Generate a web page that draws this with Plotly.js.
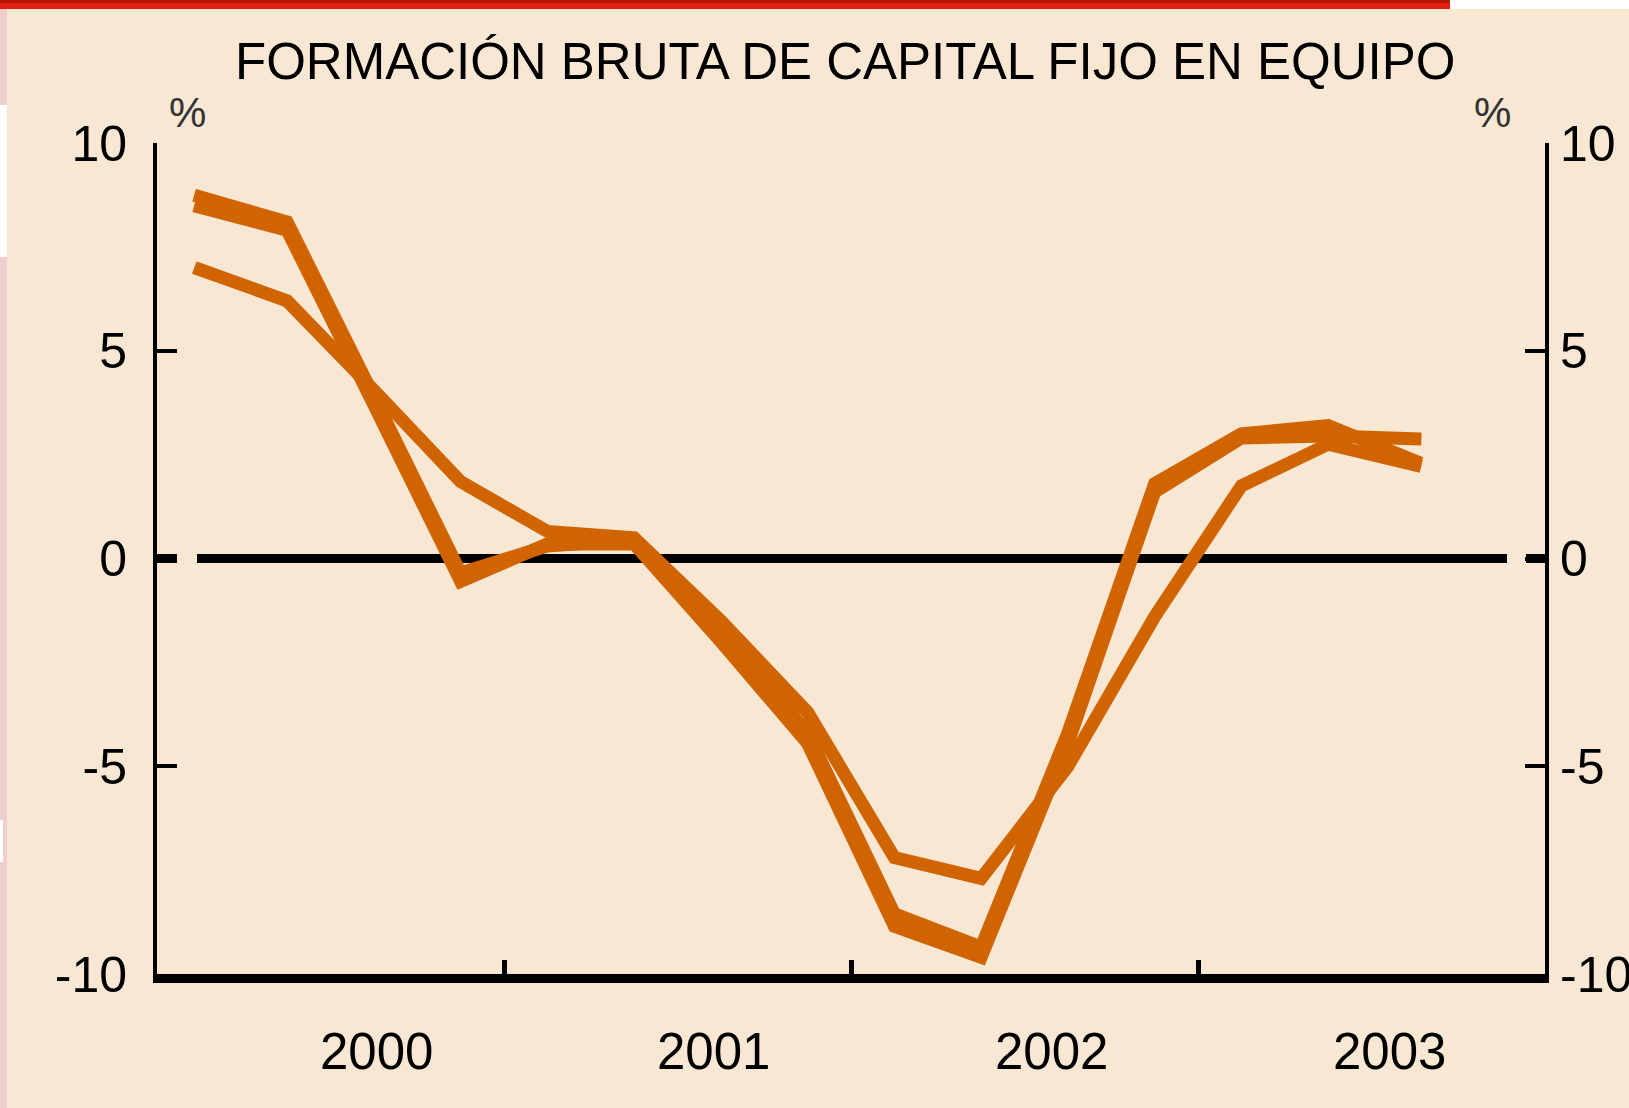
<!DOCTYPE html>
<html>
<head>
<meta charset="utf-8">
<script src="https://cdn.plot.ly/plotly-3.0.1.min.js"></script>
<style>
html,body{margin:0;padding:0;background:#F7E7D3;}
#chart{width:1629px;height:1108px;}
.scatterlayer .js-line{stroke-linecap:square !important;}
</style>
</head>
<body>
<div id="chart"></div>
<script>
// ---- data (year-on-year rates, %) ----
const quarters = ['I 2000','II 2000','III 2000','IV 2000','I 2001','II 2001','III 2001','IV 2001',
                  'I 2002','II 2002','III 2002','IV 2002','I 2003','II 2003','III 2003'];
const seriesA1 = [8.7, 8.1, 3.9, -0.35, 0.3, 0.45, -1.7, -4.2, -8.55, -9.35, -4.2, 1.8, 3.0, 3.2, 2.35];
const seriesA2 = [8.45, 7.9, 3.7, -0.55, 0.35, 0.35, -2.0, -4.45, -8.85, -9.6, -4.45, 1.6, 2.9, 2.95, 2.88];
const seriesC  = [6.95, 6.2, 4.05, 1.85, 0.65, 0.5, -1.5, -3.7, -7.2, -7.7, -5.0, -1.4, 1.75, 2.75, 2.25];
const yearLabels = ['2000','2001','2002','2003'];
const yTickVals = [-10, -5, 0, 5, 10];
const yTickText = ['-10', '-5', '0', '5', '10'];
const titleText = 'FORMACIÓN BRUTA DE CAPITAL FIJO EN EQUIPO';

// ---- geometry / style ----
const W = 1629, H = 1108, L = 157, R = 1545, T = 143, B = 974;
const px = x => (x - L) / (R - L);
const py = y => (B - y) / (B - T);
const ORANGE = '#D06400';
const BG = '#F7E7D3';
const FONT = 'Liberation Sans, Arial, Helvetica, sans-serif';

const xPos = quarters.map((q, i) => i + 0.5);
const mk = vals => ({
  x: xPos, y: vals, type: 'scatter', mode: 'lines',
  line: {color: ORANGE, width: 13}, hoverinfo: 'skip'
});
const traces = [mk(seriesC), mk(seriesA2), mk(seriesA1)];

const yearPos = [2.53, 6.41, 10.31, 14.21];
const annotations = yearLabels.map((t, i) => ({
  text: t, xref: 'x', yref: 'paper', x: yearPos[i], y: py(1051),
  xanchor: 'center', yanchor: 'middle', showarrow: false,
  font: {family: FONT, size: 51, color: '#000'}
}));
annotations.push({
  text: titleText, xref: 'paper', yref: 'paper', x: px(844.5), y: py(62),
  xanchor: 'center', yanchor: 'middle', showarrow: false,
  font: {family: FONT, size: 51, color: '#000'}
});
annotations.push({
  text: '%', xref: 'paper', yref: 'paper', x: px(187), y: py(112),
  xanchor: 'center', yanchor: 'middle', showarrow: false,
  font: {family: FONT, size: 42, color: '#333'}
});
annotations.push({
  text: '%', xref: 'paper', yref: 'paper', x: px(1492), y: py(112),
  xanchor: 'center', yanchor: 'middle', showarrow: false,
  font: {family: FONT, size: 42, color: '#333'}
});

const rectPx = (x0, y0, x1, y1, color) => ({
  type: 'rect', xref: 'paper', yref: 'paper', layer: 'below',
  x0: px(x0), x1: px(x1), y0: py(y1), y1: py(y0),
  fillcolor: color, line: {width: 0}
});
const zeroSeg = (x0, x1) => ({
  type: 'line', xref: 'paper', yref: 'y', layer: 'below',
  x0: px(x0), x1: px(x1), y0: 0, y1: 0,
  line: {color: '#000', width: 9}
});

const shapes = [
  rectPx(0, 0, 1450, 9, '#E21E0E'),
  rectPx(0, 0, 1450, 3, '#B8140A'),
  rectPx(1450, 0, 1629, 9, '#FFFFFF'),
  rectPx(0, 9, 7, 1108, '#F2CFCF'),
  rectPx(0, 105, 7, 257, '#FFFFFF'),
  rectPx(0, 820, 3, 862, '#FFFFFF'),
  zeroSeg(157, 177),
  zeroSeg(197, 1507),
  zeroSeg(1526, 1545)
];

const yCommon = {
  range: [-10, 10], tickvals: yTickVals, ticktext: yTickText,
  ticks: 'inside', ticklen: 20, tickwidth: 4, tickcolor: '#000',
  showline: true, linewidth: 4, linecolor: '#000',
  showgrid: false, zeroline: false, fixedrange: true,
  tickfont: {family: FONT, size: 50, color: '#000'}
};

const layout = {
  width: W, height: H,
  margin: {l: L, r: W - R, t: T, b: H - B, pad: 0},
  paper_bgcolor: BG, plot_bgcolor: BG,
  showlegend: false,
  font: {family: FONT, color: '#000'},
  xaxis: {
    range: [0, 16], tickvals: [4, 8, 12], ticks: 'inside', ticklen: 14, tickwidth: 5,
    tickcolor: '#000', showticklabels: false, showline: true, linewidth: 9, linecolor: '#000',
    showgrid: false, zeroline: false, fixedrange: true
  },
  yaxis: Object.assign({side: 'left', ticklabelstandoff: 16}, yCommon),
  yaxis2: Object.assign({side: 'right', overlaying: 'y', ticklabelstandoff: 1}, yCommon),
  annotations: annotations,
  shapes: shapes
};

// an invisible trace so the right axis is drawn
traces.push({x: [0], y: [0], yaxis: 'y2', type: 'scatter', mode: 'markers',
             marker: {opacity: 0}, hoverinfo: 'skip'});

Plotly.newPlot('chart', traces, layout, {staticPlot: true, displayModeBar: false});
</script>
</body>
</html>
